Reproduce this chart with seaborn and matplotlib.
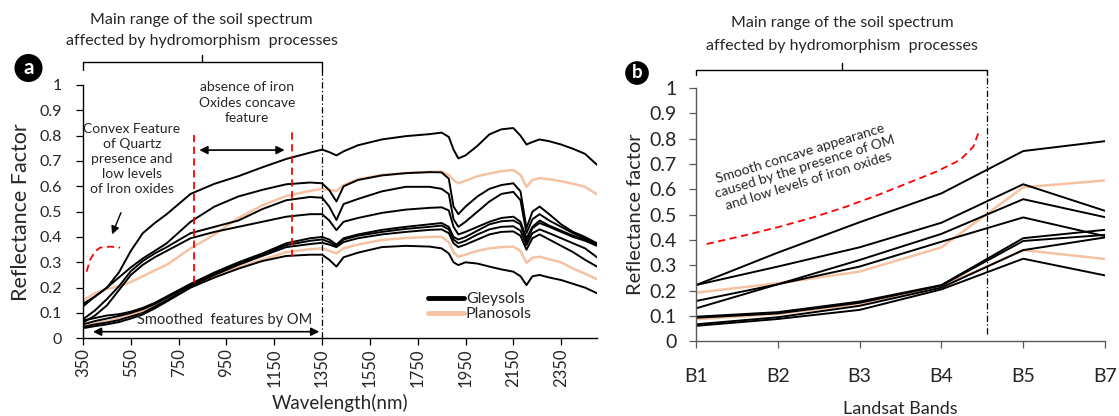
import numpy as np
import pandas as pd
import matplotlib
matplotlib.use("Agg")
import matplotlib.pyplot as plt
import seaborn as sns
from matplotlib.lines import Line2D

sns.set_theme(style="white")
plt.rcParams["font.family"] = ["Lato", "DejaVu Sans"]

# ---------------- data: panel a (spectra) ----------------
wavelength = [350, 400, 450, 500, 550, 600, 650, 700, 800, 900, 1000, 1100, 1200, 1300, 1350,
              1380, 1410, 1440, 1500, 1600, 1700, 1800, 1850, 1880, 1900, 1920, 1950, 2000, 2050,
              2100, 2150, 2180, 2205, 2230, 2260, 2300, 2350, 2400, 2450, 2500]

gley1 = [0.136, 0.165, 0.20, 0.26, 0.345, 0.415, 0.455, 0.49, 0.57, 0.61, 0.64, 0.675, 0.708, 0.733, 0.745,
         0.735, 0.722, 0.738, 0.762, 0.785, 0.798, 0.806, 0.812, 0.795, 0.745, 0.71, 0.722, 0.76, 0.805,
         0.825, 0.83, 0.80, 0.765, 0.775, 0.785, 0.778, 0.765, 0.748, 0.728, 0.685]
gley2 = [0.126, 0.165, 0.20, 0.24, 0.28, 0.315, 0.345, 0.375, 0.46, 0.52, 0.56, 0.586, 0.608, 0.615, 0.612,
         0.585, 0.54, 0.60, 0.625, 0.643, 0.652, 0.656, 0.655, 0.63, 0.52, 0.49, 0.52, 0.56, 0.59,
         0.605, 0.612, 0.58, 0.435, 0.50, 0.52, 0.49, 0.45, 0.42, 0.40, 0.375]
gley3 = [0.075, 0.11, 0.155, 0.205, 0.265, 0.305, 0.335, 0.36, 0.415, 0.44, 0.465, 0.51, 0.545, 0.558, 0.555,
         0.52, 0.467, 0.53, 0.55, 0.58, 0.598, 0.598, 0.59, 0.57, 0.47, 0.44, 0.46, 0.50, 0.54,
         0.57, 0.578, 0.545, 0.415, 0.47, 0.49, 0.465, 0.44, 0.415, 0.395, 0.37]
gley4 = [0.062, 0.09, 0.13, 0.19, 0.25, 0.29, 0.32, 0.345, 0.395, 0.42, 0.44, 0.46, 0.48, 0.49, 0.49,
         0.465, 0.427, 0.46, 0.475, 0.495, 0.508, 0.515, 0.517, 0.505, 0.44, 0.41, 0.42, 0.44, 0.46,
         0.475, 0.48, 0.46, 0.395, 0.44, 0.465, 0.445, 0.425, 0.405, 0.39, 0.37]
gley5 = [0.07, 0.08, 0.09, 0.095, 0.105, 0.12, 0.14, 0.165, 0.215, 0.26, 0.30, 0.335, 0.375, 0.395, 0.40,
         0.39, 0.37, 0.395, 0.41, 0.428, 0.44, 0.45, 0.455, 0.44, 0.40, 0.39, 0.40, 0.425, 0.45,
         0.462, 0.465, 0.45, 0.38, 0.435, 0.455, 0.44, 0.42, 0.40, 0.385, 0.365]
gley6 = [0.055, 0.068, 0.078, 0.088, 0.10, 0.115, 0.135, 0.16, 0.21, 0.255, 0.295, 0.33, 0.368, 0.385, 0.39,
         0.38, 0.365, 0.39, 0.405, 0.42, 0.432, 0.44, 0.445, 0.43, 0.39, 0.375, 0.385, 0.41, 0.43,
         0.44, 0.442, 0.425, 0.368, 0.415, 0.43, 0.415, 0.395, 0.375, 0.355, 0.32]
gley7 = [0.045, 0.055, 0.062, 0.072, 0.086, 0.10, 0.125, 0.15, 0.205, 0.25, 0.29, 0.325, 0.36, 0.372, 0.377,
         0.37, 0.36, 0.38, 0.395, 0.41, 0.42, 0.428, 0.43, 0.415, 0.375, 0.36, 0.37, 0.39, 0.41,
         0.42, 0.422, 0.405, 0.35, 0.395, 0.41, 0.39, 0.365, 0.34, 0.31, 0.283]
gley8 = [0.04, 0.048, 0.055, 0.064, 0.078, 0.094, 0.118, 0.145, 0.20, 0.24, 0.275, 0.305, 0.325, 0.33, 0.33,
         0.31, 0.283, 0.32, 0.338, 0.36, 0.365, 0.362, 0.355, 0.335, 0.30, 0.289, 0.30, 0.295, 0.283,
         0.272, 0.263, 0.245, 0.21, 0.245, 0.25, 0.24, 0.23, 0.215, 0.20, 0.178]
plano1 = [0.15, 0.178, 0.195, 0.205, 0.222, 0.245, 0.268, 0.29, 0.355, 0.41, 0.475, 0.525, 0.562, 0.582, 0.59,
          0.585, 0.582, 0.605, 0.628, 0.645, 0.652, 0.657, 0.658, 0.645, 0.625, 0.612, 0.622, 0.64, 0.65,
          0.66, 0.664, 0.645, 0.598, 0.625, 0.632, 0.628, 0.62, 0.61, 0.598, 0.568]
plano2 = [0.05, 0.058, 0.068, 0.078, 0.092, 0.108, 0.13, 0.155, 0.205, 0.245, 0.28, 0.31, 0.34, 0.352, 0.355,
          0.345, 0.335, 0.355, 0.37, 0.388, 0.396, 0.40, 0.401, 0.38, 0.34, 0.322, 0.33, 0.345, 0.355,
          0.36, 0.362, 0.345, 0.298, 0.318, 0.322, 0.312, 0.30, 0.275, 0.255, 0.233]

x_ticks_a = [350, 550, 750, 950, 1150, 1350, 1550, 1750, 1950, 2150, 2350]
y_ticks = [0, 0.1, 0.2, 0.3, 0.4, 0.5, 0.6, 0.7, 0.8, 0.9, 1.0]
y_tick_labels = ["0", "0.1", "0.2", "0.3", "0.4", "0.5", "0.6", "0.7", "0.8", "0.9", "1"]

# ---------------- data: panel b (Landsat bands) ----------------
bands = ["B1", "B2", "B3", "B4", "B5", "B7"]
gley1_b = [0.222, 0.35, 0.47, 0.584, 0.751, 0.79]
gley2_b = [0.222, 0.295, 0.371, 0.468, 0.62, 0.515]
gley3_b = [0.159, 0.225, 0.321, 0.424, 0.561, 0.49]
gley4_b = [0.130, 0.225, 0.295, 0.393, 0.489, 0.415]
gley5_b = [0.097, 0.115, 0.157, 0.222, 0.407, 0.44]
gley6_b = [0.093, 0.11, 0.152, 0.22, 0.396, 0.42]
gley7_b = [0.067, 0.095, 0.14, 0.212, 0.36, 0.41]
gley8_b = [0.061, 0.088, 0.124, 0.205, 0.326, 0.26]
plano1_b = [0.192, 0.229, 0.275, 0.371, 0.608, 0.635]
plano2_b = [0.087, 0.108, 0.147, 0.216, 0.36, 0.325]

# annotation shapes (data units)
arc_a_x = [365, 379, 400, 421, 463, 505]
arc_a_y = [0.263, 0.309, 0.342, 0.358, 0.362, 0.358]
curve_b_x = [0.13, 0.62, 1.03, 1.43, 1.84, 2.21, 2.53, 2.94, 3.23, 3.39, 3.45]
curve_b_y = [0.384, 0.420, 0.453, 0.489, 0.532, 0.576, 0.617, 0.670, 0.716, 0.768, 0.821]

BLACK = "#000000"
PEACH = "#F5C3A3"

# ---------------- build frames ----------------
gley_a = [gley1, gley2, gley3, gley4, gley5, gley6, gley7, gley8]
plano_a = [plano1, plano2]
rows = []
for i, s in enumerate(plano_a):
    for w, v in zip(wavelength, s):
        rows.append(("Planosols", f"P{i}", w, v))
for i, s in enumerate(gley_a):
    for w, v in zip(wavelength, s):
        rows.append(("Gleysols", f"G{i}", w, v))
df_a = pd.DataFrame(rows, columns=["soil", "sample", "wl", "refl"])

gley_b = [gley1_b, gley2_b, gley3_b, gley4_b, gley5_b, gley6_b, gley7_b, gley8_b]
plano_b = [plano1_b, plano2_b]
rows = []
for i, s in enumerate(plano_b):
    for k, v in enumerate(s):
        rows.append(("Planosols", f"P{i}", k, v))
for i, s in enumerate(gley_b):
    for k, v in enumerate(s):
        rows.append(("Gleysols", f"G{i}", k, v))
df_b = pd.DataFrame(rows, columns=["soil", "sample", "pos", "refl"])

fig = plt.figure(figsize=(11.19, 4.16), dpi=100)
ax = fig.add_axes([0.0742, 0.1868, 0.4593, 0.6089])
bx = fig.add_axes([0.622, 0.1796, 0.3655, 0.6089])

# ---------------- panel a ----------------
sns.lineplot(data=df_a[df_a.soil == "Planosols"], x="wl", y="refl", units="sample",
             estimator=None, color=PEACH, lw=1.8, ax=ax, legend=False, sort=False)
sns.lineplot(data=df_a[df_a.soil == "Gleysols"], x="wl", y="refl", units="sample",
             estimator=None, color=BLACK, lw=1.4, ax=ax, legend=False, sort=False)
ax.set_xlim(350, 2500)
ax.set_ylim(0, 1)
ax.set_xticks(x_ticks_a)
ax.set_xticklabels([str(t) for t in x_ticks_a], rotation=90, fontsize=12)
ax.set_yticks(y_ticks)
ax.set_yticklabels(y_tick_labels, fontsize=11.5)
ax.set_xlabel("Wavelength(nm)", fontsize=13.5, labelpad=5)
ax.set_ylabel("Reflectance Factor", fontsize=15.5, labelpad=6)
for sp in ["top", "right"]:
    ax.spines[sp].set_visible(False)
for sp in ["left", "bottom"]:
    ax.spines[sp].set_color("black")
    ax.spines[sp].set_linewidth(1.0)
ax.tick_params(axis="both", which="both", bottom=True, left=True, direction="out",
               length=5, width=0.9, color="black")
ax.tick_params(axis="y", pad=10)
ax.tick_params(axis="x", pad=2)

red_ls = (0, (4, 2.5))
ax.plot([815, 815], [0.22, 0.82], color="red", ls=red_ls, lw=1.3)
ax.plot([1225, 1225], [0.32, 0.82], color="red", ls=red_ls, lw=1.3)
ax.plot(arc_a_x, arc_a_y, color="red", ls=red_ls, lw=1.3)
ax.annotate("", xy=(825, 0.743), xytext=(1205, 0.743),
            arrowprops=dict(arrowstyle="<|-|>", color="black", lw=1.2, mutation_scale=12))
ax.text(1035, 0.929, "absence of iron\nOxides concave\nfeature", ha="center", va="center",
        fontsize=10, linespacing=1.35)
ax.text(554, 0.707, "Convex Feature\nof Quartz\npresence and\nlow levels\nof Iron oxides",
        ha="center", va="center", fontsize=10, linespacing=1.3)
ax.annotate("", xy=(467, 0.40), xytext=(513, 0.506),
            arrowprops=dict(arrowstyle="-|>", color="black", lw=1.0, mutation_scale=12))
ax.annotate("", xy=(380, 0.026), xytext=(1350, 0.026),
            arrowprops=dict(arrowstyle="<|-|>", color="black", lw=1.2, mutation_scale=12))
ax.text(944, 0.072, "Smoothed  features by OM", ha="center", va="center", fontsize=10.5)
ax.plot([1350, 1350], [0, 1.059], color="black", ls=(0, (5, 2, 1, 2)), lw=0.9, clip_on=False)
ax.plot([350, 350, 1350, 1350], [1.059, 1.091, 1.091, 1.059], color="black", lw=1.0, clip_on=False)
ax.plot([846, 846], [1.091, 1.118], color="black", lw=1.0, clip_on=False)
ax.text(846, 1.257, "Main range of the soil spectrum", ha="center", va="center", fontsize=11.5)
ax.text(846, 1.174, "affected by hydromorphism  processes", ha="center", va="center", fontsize=11.5)

handles = [Line2D([0], [0], color=BLACK, lw=3.5), Line2D([0], [0], color=PEACH, lw=3.5)]
ax.legend(handles, ["Gleysols", "Planosols"], loc="upper left", bbox_to_anchor=(0.672, 0.183),
          frameon=False, fontsize=11.5, handlelength=2.2, handletextpad=0.15,
          labelspacing=0.05, borderpad=0, borderaxespad=0)

# ---------------- panel b ----------------
sns.lineplot(data=df_b[df_b.soil == "Planosols"], x="pos", y="refl", units="sample",
             estimator=None, color=PEACH, lw=1.8, ax=bx, legend=False, sort=False)
sns.lineplot(data=df_b[df_b.soil == "Gleysols"], x="pos", y="refl", units="sample",
             estimator=None, color=BLACK, lw=1.4, ax=bx, legend=False, sort=False)
bx.set_xlim(0, len(bands) - 1)
bx.set_ylim(0, 1)
bx.set_xticks(range(len(bands)))
bx.set_xticklabels(bands, fontsize=14)
bx.set_yticks(y_ticks)
bx.set_yticklabels(y_tick_labels, fontsize=14)
bx.set_xlabel("Landsat Bands", fontsize=13, labelpad=12)
bx.set_ylabel("Reflectance factor", fontsize=14.5, labelpad=4)
for sp in ["top", "right"]:
    bx.spines[sp].set_visible(False)
for sp in ["left", "bottom"]:
    bx.spines[sp].set_color("#595959")
    bx.spines[sp].set_linewidth(1.0)
bx.tick_params(axis="both", which="both", bottom=True, left=True, direction="out",
               length=5, width=0.9, color="#595959")
bx.tick_params(axis="y", pad=9)
bx.tick_params(axis="x", pad=14)

bx.plot(curve_b_x, curve_b_y, color="red", ls=red_ls, lw=1.3)
bx.text(1.33, 0.688, "Smooth concave appearance\ncaused by the presence of OM\nand low levels of iron oxides",
        ha="center", va="center", fontsize=10, rotation=17, rotation_mode="anchor", linespacing=1.25)
bx.plot([3.554, 3.554], [0.03, 1.051], color="black", ls=(0, (5, 2, 1, 2)), lw=0.9, clip_on=False)
bx.plot([0, 0, 3.554, 3.554], [1.051, 1.071, 1.071, 1.051], color="black", lw=1.0, clip_on=False)
bx.plot([1.785, 1.785], [1.071, 1.099], color="black", lw=1.0, clip_on=False)
bx.text(1.785, 1.255, "Main range of the soil spectrum", ha="center", va="center", fontsize=11.5)
bx.text(1.785, 1.167, "affected by hydromorphism  processes", ha="center", va="center", fontsize=11.5)

# panel badges
fig.text(28.5 / 1119, 1 - 68 / 416, "a", ha="center", va="center", color="white",
         fontsize=15, fontweight="bold",
         bbox=dict(boxstyle="circle,pad=0.16", fc="black", ec="black"))
fig.text(637 / 1119, 1 - 73 / 416, "b", ha="center", va="center", color="white",
         fontsize=13.5, fontweight="bold",
         bbox=dict(boxstyle="circle,pad=0.14", fc="black", ec="black"))

fig.savefig("out.png", dpi=100)
